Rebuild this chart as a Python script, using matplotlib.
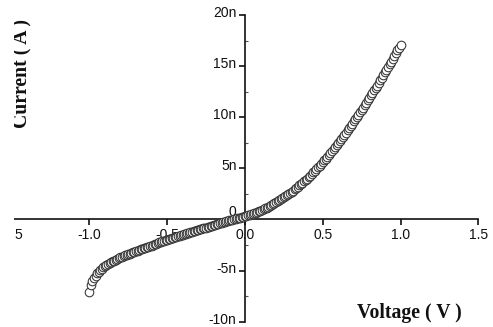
import numpy as np
import matplotlib
matplotlib.use("Agg")
import matplotlib.pyplot as plt
from matplotlib.patches import Rectangle
from matplotlib.transforms import ScaledTranslation

# Voltage sweep (V) and measured current (nA)
voltage = np.round(np.linspace(-1.0, 1.0, 201), 2)
current_nA = [
    -7.10, -6.45, -6.05, -5.75, -5.50, -5.28, -5.10, -4.95, -4.82, -4.68,
    -4.57, -4.46, -4.36, -4.27, -4.19, -4.10, -4.02, -3.94, -3.86, -3.78,
    -3.71, -3.65, -3.58, -3.52, -3.46, -3.40, -3.34, -3.28, -3.22, -3.16,
    -3.10, -3.04, -2.98, -2.92, -2.86, -2.80, -2.75, -2.70, -2.65, -2.60,
    -2.55, -2.49, -2.43, -2.37, -2.31, -2.25, -2.20, -2.15, -2.10, -2.05,
    -2.00, -1.95, -1.90, -1.85, -1.80, -1.75, -1.70, -1.65, -1.60, -1.55,
    -1.50, -1.45, -1.40, -1.35, -1.30, -1.25, -1.20, -1.15, -1.10, -1.05,
    -1.00, -0.96, -0.92, -0.88, -0.84, -0.80, -0.75, -0.70, -0.65, -0.60,
    -0.55, -0.50, -0.45, -0.40, -0.35, -0.30, -0.26, -0.22, -0.18, -0.14,
    -0.10, -0.06, -0.02, 0.02, 0.06, 0.10, 0.14, 0.18, 0.22, 0.26,
    0.30,
    0.35, 0.40, 0.45, 0.50, 0.55, 0.61, 0.67, 0.73, 0.79, 0.85,
    0.93, 1.01, 1.09, 1.17, 1.25, 1.34, 1.43, 1.52, 1.61, 1.70,
    1.79, 1.88, 1.97, 2.06, 2.15, 2.26, 2.37, 2.48, 2.59, 2.70,
    2.83, 2.96, 3.09, 3.22, 3.35, 3.48, 3.61, 3.74, 3.87, 4.00,
    4.15, 4.30, 4.45, 4.60, 4.75, 4.92, 5.09, 5.26, 5.43, 5.60,
    5.78, 5.96, 6.14, 6.32, 6.50, 6.69, 6.88, 7.07, 7.26, 7.45,
    7.66, 7.87, 8.08, 8.29, 8.50, 8.72, 8.94, 9.16, 9.38, 9.60,
    9.82, 10.04, 10.26, 10.48, 10.70, 10.94, 11.18, 11.42, 11.66, 11.90,
    12.14, 12.38, 12.62, 12.86, 13.10, 13.36, 13.62, 13.88, 14.14, 14.40,
    14.66, 14.92, 15.18, 15.44, 15.70, 15.98, 16.26, 16.54, 16.82, 17.10,
]

x_ticks = [-1.5, -1.0, -0.5, 0.0, 0.5, 1.0, 1.5]
x_tick_labels = ["-1.5", "-1.0", "-0.5", "0.0", "0.5", "1.0", "1.5"]
y_ticks = [-10, -5, 0, 5, 10, 15, 20]
y_tick_labels = ["-10n", "-5n", "0", "5n", "10n", "15n", "20n"]
y_minor = [-7.5, -2.5, 2.5, 7.5, 12.5, 17.5]

W, H = 493, 327
fig = plt.figure(figsize=(W / 100, H / 100), dpi=100)
left_px, right_px, top_px, bot_px = 11.5, 478.3, 15.0, 321.7
ax = fig.add_axes([left_px / W, (H - bot_px) / H, (right_px - left_px) / W, (bot_px - top_px) / H])

ax.plot(voltage, current_nA, 'o', mfc='white', mec='#333333', ms=6.2, mew=0.75,
        clip_on=False, zorder=3)

ax.set_xlim(-1.5, 1.5)
ax.set_ylim(-10, 20)

for s in ['top', 'right']:
    ax.spines[s].set_visible(False)
ax.spines['left'].set_position(('data', 0))
ax.spines['bottom'].set_position(('data', 0))
for s in ['left', 'bottom']:
    ax.spines[s].set_linewidth(1.2)
    ax.spines[s].set_color('#111111')

tick_font = dict(family='Liberation Sans', size=10)
ax.set_xticks(x_ticks)
ax.set_xticklabels(x_tick_labels, fontdict=tick_font)
ax.set_yticks(y_ticks)
ax.set_yticklabels(y_tick_labels, fontdict=tick_font)
ax.set_yticks(y_minor, minor=True)
ax.tick_params(axis='both', which='major', direction='out', length=4, width=1.2,
               color='#111111', pad=2, labelcolor='#111111')
ax.tick_params(axis='y', which='minor', direction='in', length=2, width=0.8, color='#555555')
ax.tick_params(axis='x', which='minor', length=0)

up = ScaledTranslation(0, 2.5 / 72, fig.dpi_scale_trans)
for lbl in ax.get_yticklabels():
    if lbl.get_text() == "0":
        lbl.set_va('bottom')
    else:
        lbl.set_transform(lbl.get_transform() + up)

label_font = dict(family='Liberation Serif', weight='bold', size=14.2, color='#111111')
fig.text(22 / W, 1 - 73.5 / H, "Current ( A )", rotation=90, ha='center', va='center', **label_font)
fig.text(409 / W, 1 - 313 / H, "Voltage ( V )", ha='center', va='center', **label_font)

# white margin at the left edge (the original image is cropped there)
fig.patches.append(Rectangle((0, 0), 14 / W, 1, transform=fig.transFigure,
                             facecolor='white', edgecolor='none', zorder=10))

fig.savefig("out.png", dpi=100, facecolor='white')
